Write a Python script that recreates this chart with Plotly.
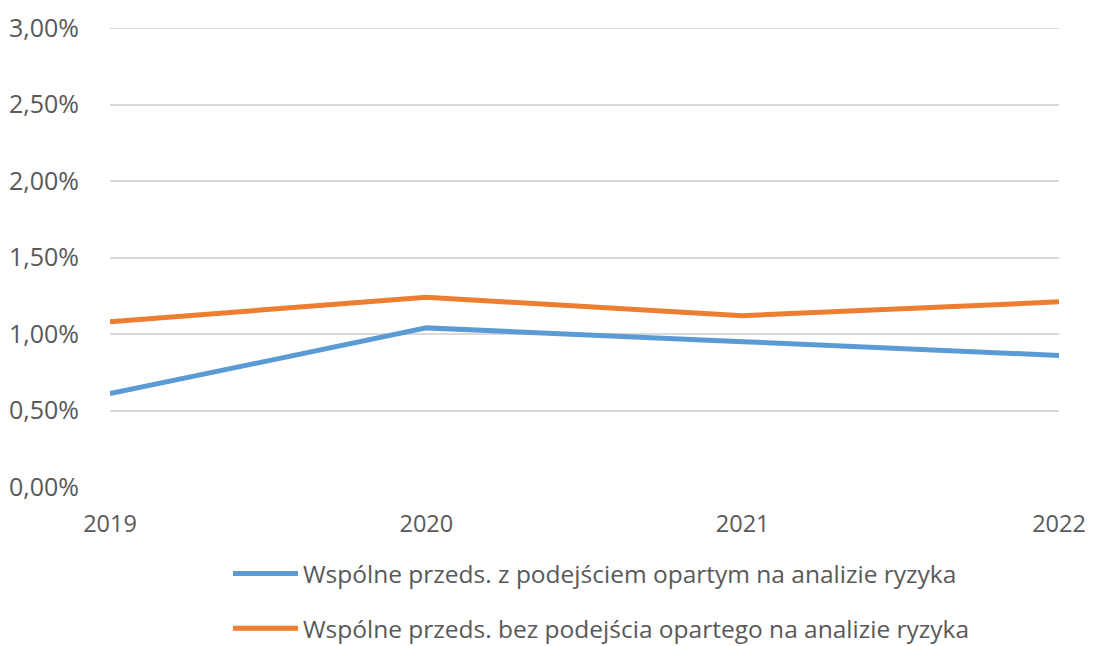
import plotly.graph_objects as go

years = [2019, 2020, 2021, 2022]
series_a_name = "Wspólne przeds. z podejściem opartym na analizie ryzyka"
series_b_name = "Wspólne przeds. bez podejścia opartego na analizie ryzyka"
series_a = [0.0061, 0.0104, 0.0095, 0.0086]
series_b = [0.0108, 0.0124, 0.0112, 0.0121]
y_ticks = [0, 0.005, 0.01, 0.015, 0.02, 0.025, 0.03]

fig = go.Figure()
fig.add_trace(go.Scatter(x=years, y=series_a, mode="lines", name=series_a_name,
                         line=dict(color="#5B9BD5", width=5), legendgroup="a"))
fig.add_trace(go.Scatter(x=years, y=series_b, mode="lines", name=series_b_name,
                         line=dict(color="#ED7D31", width=5), legendgroup="b"))

# top gridline (plotly hides a grid line that sits exactly on the plot edge)
fig.add_shape(type="line", xref="paper", x0=0, x1=1, yref="y", y0=y_ticks[-1], y1=y_ticks[-1],
              line=dict(color="#D9D9D9", width=2), layer="below")

fig.update_layout(
    width=1093, height=646,
    margin=dict(l=102, r=42, t=20, b=167, autoexpand=False),
    paper_bgcolor="white", plot_bgcolor="white",
    separators=", ",
    font=dict(family="Open Sans", size=25, color="#595959"),
    xaxis=dict(range=[2019, 2022], tickvals=years, ticktext=[str(y) for y in years],
               showgrid=False, zeroline=False, showline=False, ticks="",
               tickfont=dict(size=23.5),
               ticklabelstandoff=20, automargin=False, ticklabeloverflow="allow"),
    yaxis=dict(range=[0, 0.03], tickvals=y_ticks,
               tickformat=".2%", showgrid=True,
               gridcolor="#D9D9D9", gridwidth=2, zeroline=False, showline=False,
               ticks="", ticklabelstandoff=30, automargin=False),
    legend=dict(orientation="v", x=0.1243, xanchor="left", xref="paper",
                y=1 - 543 / 646, yanchor="top", yref="container",
                itemwidth=65, tracegroupgap=20, traceorder="grouped",
                font=dict(size=24.5, color="#595959")),
    showlegend=True,
)

fig.write_html("out.html")
